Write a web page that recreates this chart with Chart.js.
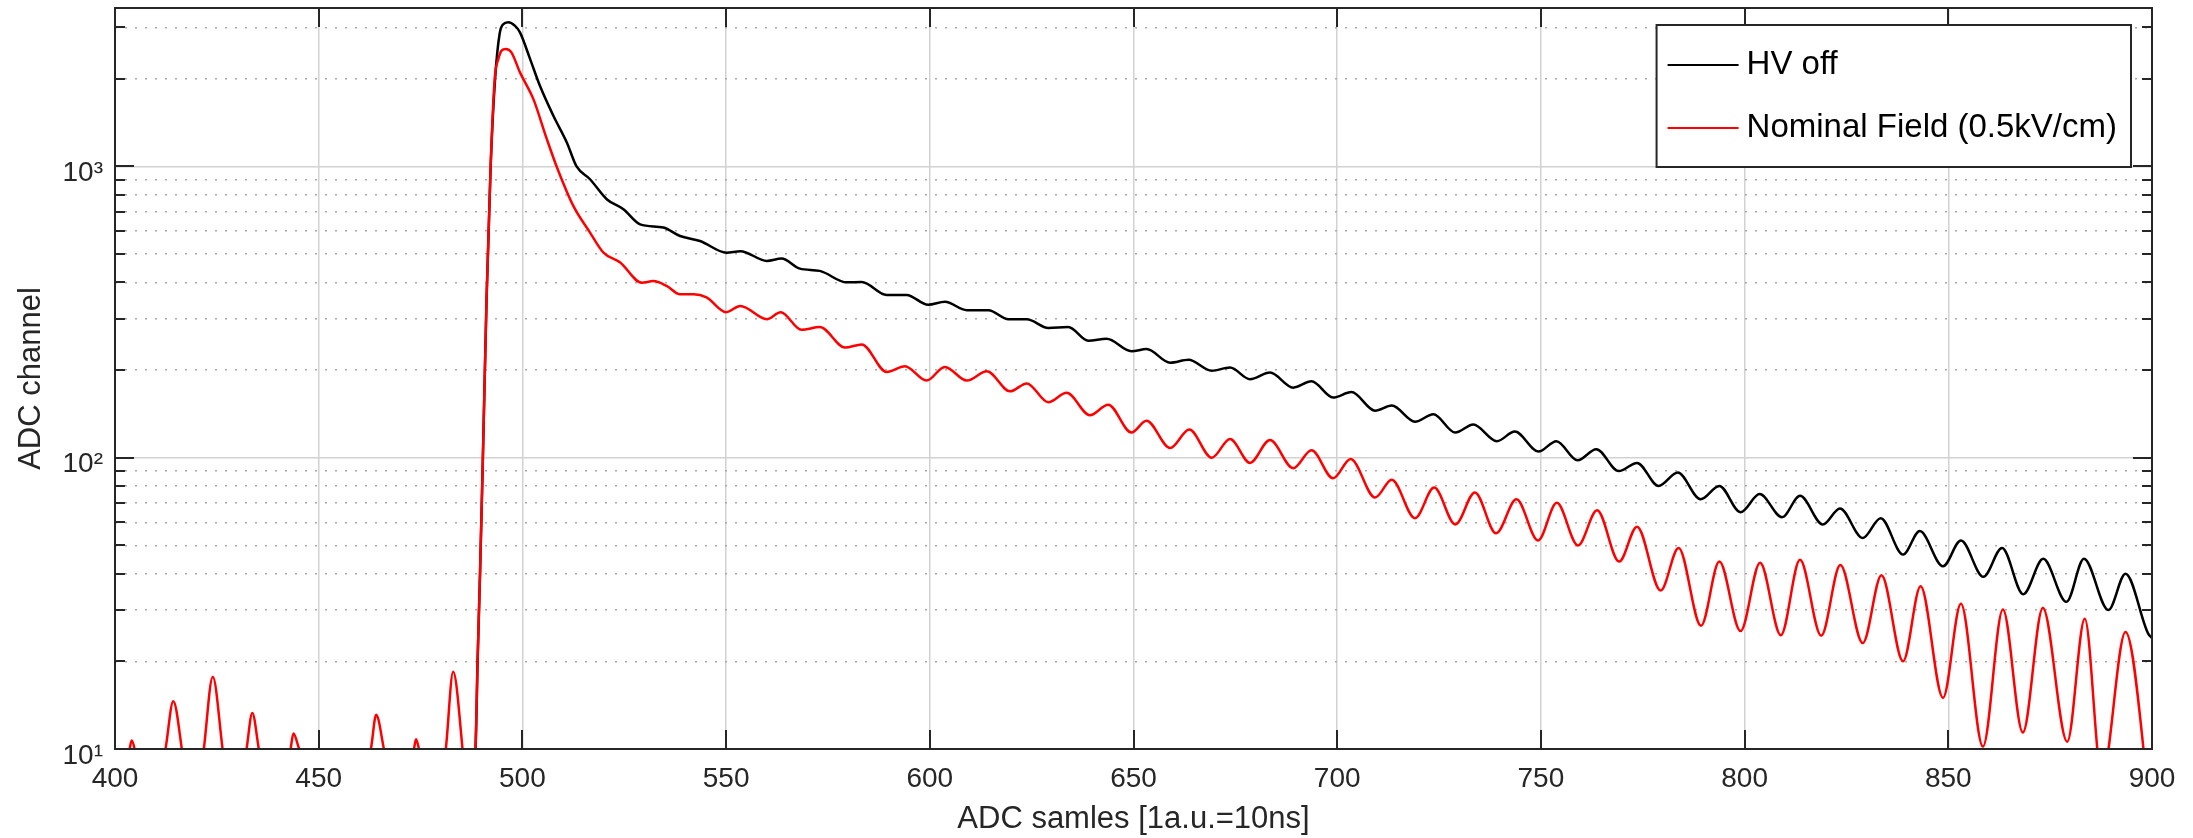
<!DOCTYPE html>
<html>
<head>
<meta charset="utf-8">
<title>ADC channel vs ADC samples</title>
<script src="https://cdn.jsdelivr.net/npm/chart.js@4.4.1/dist/chart.umd.min.js"></script>
<style>
  html, body { margin: 0; padding: 0; background: #fff; }
  #wrap { width: 2193px; height: 838px; }
</style>
</head>
<body>
<div id="wrap"><canvas id="adcChart" width="2193" height="838"></canvas></div>
<script>
// values: [ADC sample, ADC channel]
var hvOff = [
  [486, 5], [488.5, 10], [489, 20], [489.6, 40], [490.3, 100], [491.2, 350], [492.2, 1000], [493.3, 2000],
  [494.4, 2850], [495.3, 3080], [496.5, 3130], [498.2, 3040], [499.4, 2887], [501.9, 2337], [504.3, 1892],
  [507.6, 1493], [510.9, 1209], [513.3, 1000], [516.6, 904], [520.7, 772], [524.8, 713], [528.9, 633],
  [534.6, 617], [538.7, 577], [543.6, 555], [550.1, 506], [553.5, 512], [560, 474], [563.6, 483],
  [568.1, 446], [573, 438], [579.6, 400], [583.3, 401], [589.4, 362], [594.3, 362], [599.6, 335],
  [603.7, 343], [609.1, 321], [614.4, 321], [619.3, 299], [623.8, 299], [629.1, 279], [634, 281],
  [638.9, 252], [643.4, 256], [649.5, 232], [653.2, 236], [659, 212], [663.5, 217], [669.2, 199],
  [673.7, 204], [678.6, 186], [683.5, 196], [689.2, 174], [693.7, 183], [699, 161], [703.5, 168],
  [709.3, 145], [713.4, 151], [719.1, 133], [723.6, 141], [729, 122], [733.4, 130], [739.2, 114],
  [743.6, 123], [749.4, 105], [753.8, 114], [759, 98], [763.6, 107], [769.1, 90], [773.6, 96],
  [778.9, 80], [783.6, 89], [789.2, 72], [793.8, 80], [799, 65], [803.7, 75], [809.2, 62.5],
  [813.6, 74], [819.2, 59], [823.4, 67], [829, 53], [833.4, 62], [838.9, 46.5], [843, 56],
  [848.7, 42.4], [853.1, 52], [858.6, 39], [863.2, 49], [868.4, 34], [873.3, 45], [879, 32],
  [883.3, 45], [889.3, 30], [893.5, 40], [899, 25], [900, 24]
];

var nominalField = [
  [400, 5], [403.6, 10], [404.1, 10.7], [404.8, 10], [408, 5], [412.4, 10], [414.3, 14.6], [416.4, 10],
  [419, 5], [421.8, 10], [424, 17.7], [426.4, 10], [429, 5], [432.3, 10], [433.7, 13.3], [435.3, 10],
  [439, 5], [443.1, 10], [443.8, 11.3], [445.2, 10], [454, 5], [462.8, 10], [464.1, 13.1], [466, 10],
  [470, 5], [473.4, 10], [473.9, 10.8], [474.6, 10], [478, 5], [481.2, 10], [483, 18.4], [485.3, 10],
  [487, 5], [488.5, 10], [489, 20], [489.6, 40], [490.3, 100], [491.2, 350], [492.2, 1000],
  [493.2, 2000], [494.1, 2340], [494.9, 2500], [495.9, 2530], [497.3, 2465], [499.4, 2104],
  [502.7, 1703], [506, 1241], [508.4, 1000], [512.5, 732], [516.6, 593], [519.9, 506], [524, 468],
  [529.3, 399], [532.1, 404], [535.4, 389], [538.7, 364], [542, 364], [545.2, 355], [550, 316],
  [553.5, 332], [560, 299], [563.4, 316], [568.5, 275], [573, 281], [579.2, 239], [583.3, 245],
  [589.4, 197], [593.9, 206], [599.2, 184], [603.7, 205], [609.1, 184], [614, 198], [619.7, 169],
  [623.8, 180], [629.1, 155], [633.6, 167], [639.3, 140], [643.8, 152], [649.5, 122], [653.2, 134],
  [659, 108], [663.7, 125], [669.2, 100], [673.7, 116], [678.6, 96], [683.5, 115], [689.2, 92],
  [693.7, 106], [699, 85], [703.3, 99], [709.3, 73], [713.4, 84], [719.1, 62], [723.8, 79],
  [729, 59], [733.8, 76], [739, 55], [744, 72], [749.3, 52], [753.9, 70], [759.1, 50], [763.8, 66],
  [769.2, 44], [773.6, 58], [779.4, 35], [783.8, 49], [789.3, 26.5], [793.8, 44], [799, 25.4],
  [803.8, 43.6], [808.9, 24.6], [813.6, 44.6], [818.8, 24.5], [823.5, 42.8], [829, 23.1],
  [833.6, 39.5], [838.9, 20], [843.2, 36.2], [848.7, 15], [853.1, 31.5], [858.5, 10.2],
  [863.4, 30.1], [868.3, 11.4], [873.2, 30.5], [879.2, 10.6], [883.5, 28], [887.7, 8],
  [893.5, 25.2], [900, 5.5]
];

var seriesNames = ['HV off', 'Nominal Field (0.5kV/cm)'];
var seriesColors = ['#000000', '#ff0000'];

var xTicks = [400, 450, 500, 550, 600, 650, 700, 750, 800, 850, 900];
var yTicks = [10, 20, 30, 40, 50, 60, 70, 80, 90,
              100, 200, 300, 400, 500, 600, 700, 800, 900,
              1000, 2000, 3000];
var yMajor = [10, 100, 1000];
var yMajorLabels = ['10¹', '10²', '10³'];

var FONT = '"Liberation Sans", Arial, Helvetica, sans-serif';
var AXIS = '#262626';

Chart.defaults.font.family = FONT;
Chart.defaults.color = AXIS;

function toPoints(list) {
    return list.map(function (p) { return { x: p[0], y: p[1] }; });
}

function isMajor(c) {
    return c.tick !== undefined && yMajor.indexOf(c.tick.value) >= 0;
}

// MATLAB style box: inward ticks on all four sides plus a boxed legend
var framePlugin = {
    id: 'frame',
    afterDatasetsDraw: function (chart) {
        var c = chart.ctx;
        var a = chart.chartArea;
        var xs = chart.scales.x;
        var ys = chart.scales.y;

        c.save();
        c.strokeStyle = AXIS;
        c.lineWidth = 2;
        c.beginPath();
        xs.ticks.forEach(function (t) {
            var px = Math.round(xs.getPixelForValue(t.value));
            c.moveTo(px, a.bottom); c.lineTo(px, a.bottom - 19);
            c.moveTo(px, a.top); c.lineTo(px, a.top + 19);
        });
        ys.ticks.forEach(function (t) {
            var py = Math.round(ys.getPixelForValue(t.value));
            var len = yMajor.indexOf(t.value) >= 0 ? 19 : 10;
            c.moveTo(a.left, py); c.lineTo(a.left + len, py);
            c.moveTo(a.right, py); c.lineTo(a.right - len, py);
        });
        c.stroke();
        c.strokeRect(a.left, a.top, a.right - a.left, a.bottom - a.top);

        // legend
        c.font = '33px ' + FONT;
        var textW = 0;
        chart.data.datasets.forEach(function (d) {
            textW = Math.max(textW, c.measureText(d.label).width);
        });
        var boxW = 90 + textW + 14;
        var boxH = 142;
        var bx = a.right - 21 - boxW;
        var by = a.top + 17;
        c.fillStyle = '#ffffff';
        c.fillRect(bx, by, boxW, boxH);
        c.strokeStyle = AXIS;
        c.lineWidth = 2;
        c.strokeRect(bx, by, boxW, boxH);
        chart.data.datasets.forEach(function (d, i) {
            var ly = by + 40 + i * 63;
            c.strokeStyle = d.borderColor;
            c.lineWidth = 2;
            c.beginPath();
            c.moveTo(bx + 11, ly);
            c.lineTo(bx + 82, ly);
            c.stroke();
            c.fillStyle = '#000000';
            c.textAlign = 'left';
            c.textBaseline = 'middle';
            c.fillText(d.label, bx + 90, ly);
        });
        c.restore();
    }
};

var ctx = document.getElementById('adcChart').getContext('2d');

var myChart = new Chart(ctx, {
    type: 'line',
    data: {
        datasets: [
            {
                label: seriesNames[0],
                data: toPoints(hvOff),
                borderColor: seriesColors[0],
                borderWidth: 2.5,
                pointRadius: 0,
                fill: false,
                cubicInterpolationMode: 'monotone',
                order: 1
            },
            {
                label: seriesNames[1],
                data: toPoints(nominalField),
                borderColor: seriesColors[1],
                borderWidth: 2.5,
                pointRadius: 0,
                fill: false,
                cubicInterpolationMode: 'monotone',
                order: 0
            }
        ]
    },
    options: {
        responsive: false,
        animation: false,
        events: [],
        layout: { padding: { top: 8, right: 41, left: 0, bottom: 0 } },
        plugins: {
            legend: { display: false },
            tooltip: { enabled: false }
        },
        scales: {
            x: {
                type: 'linear',
                min: 400,
                max: 900,
                afterBuildTicks: function (s) {
                    s.ticks = xTicks.map(function (v) { return { value: v }; });
                },
                afterFit: function (s) {
                    s.height = 89;
                    s.paddingLeft = 0;
                    s.paddingRight = 0;
                },
                ticks: {
                    padding: 13,
                    maxRotation: 0,
                    autoSkip: false,
                    font: { size: 28 },
                    callback: function (v) { return String(v); }
                },
                grid: { color: '#d2d2d2', lineWidth: 1.5, drawTicks: false },
                border: { display: false },
                title: {
                    display: true,
                    text: 'ADC samles [1a.u.=10ns]',
                    font: { size: 31 },
                    padding: { top: 0, bottom: 0 }
                }
            },
            y: {
                type: 'logarithmic',
                min: 10,
                max: 3500,
                afterBuildTicks: function (s) {
                    s.ticks = yTicks.map(function (v) { return { value: v }; });
                },
                afterFit: function (s) {
                    s.width = 115;
                    s.paddingTop = 0;
                    s.paddingBottom = 0;
                },
                ticks: {
                    padding: 12,
                    labelOffset: 7,
                    autoSkip: false,
                    font: { size: 28 },
                    callback: function (v) {
                        var i = yMajor.indexOf(v);
                        return i < 0 ? '' : yMajorLabels[i];
                    }
                },
                grid: {
                    drawTicks: false,
                    color: function (c) { return isMajor(c) ? '#d2d2d2' : '#a8a8a8'; },
                    lineWidth: 1.5
                },
                border: {
                    display: false,
                    dash: function (c) { return isMajor(c) ? [] : [2, 8]; }
                },
                title: {
                    display: true,
                    text: 'ADC channel',
                    font: { size: 31 },
                    padding: { top: 13, bottom: 0 }
                }
            }
        }
    },
    plugins: [framePlugin]
});
</script>
</body>
</html>
